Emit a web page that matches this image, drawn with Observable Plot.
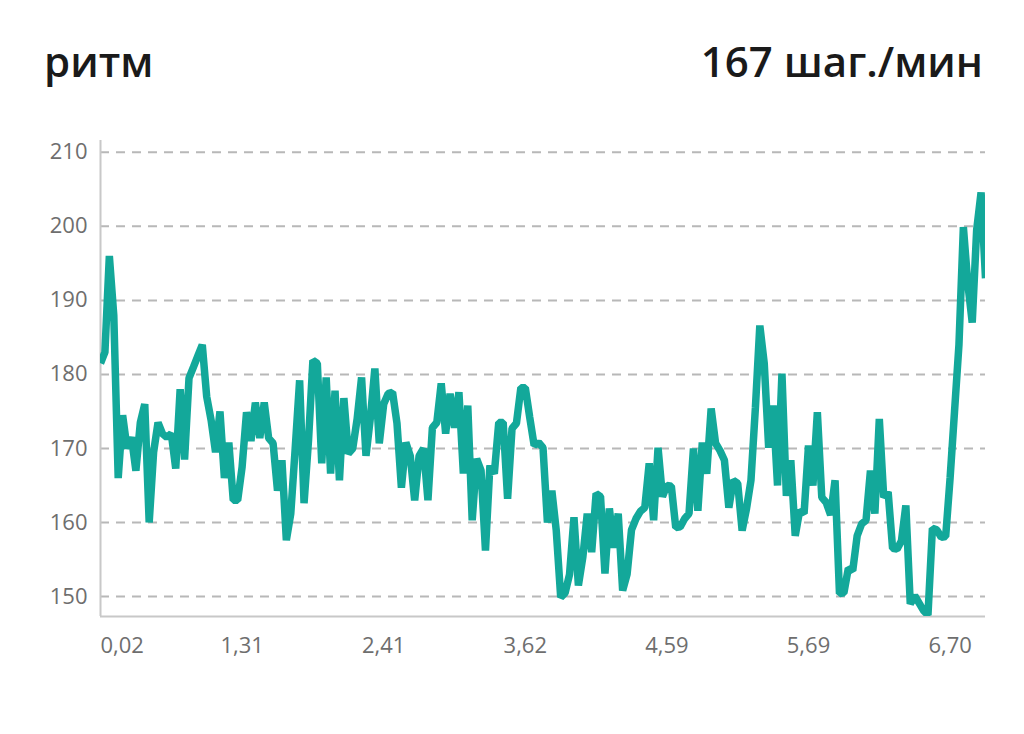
<!DOCTYPE html>
<html><head><meta charset="utf-8">
<script src="https://cdn.jsdelivr.net/npm/d3@7"></script>
<script src="https://cdn.jsdelivr.net/npm/@observablehq/plot@0.6"></script>
<style>
html,body{margin:0;padding:0;background:#fff;}
body{width:1024px;height:734px;overflow:hidden;font-family:"Open Sans",sans-serif;}
#header{position:relative;height:120px;}
.t{position:absolute;top:40px;font-size:42px;font-weight:600;line-height:1;color:#1a1a1a;white-space:nowrap;}
#left{left:44px;}
#right{right:41px;}
#chart svg{display:block;}
</style></head><body>
<div id="header"><span class="t" id="left"></span><span class="t" id="right"></span></div>
<div id="chart"></div>
<script>
const titleText = "ритм";
const summaryText = "167 шаг./мин";

const cadence = [
181.5,183,196,188,166,174.5,170,171.5,167,173.5,
176,160,169.5,173.5,172,171.5,172,167.3,178,168.5,
179.5,181,182.5,184,177,173.8,169.5,175,166,170.8,
163,163,167.5,174.9,171,176.2,171.4,176.2,171.4,170.7,
164.3,168.4,157.6,161.2,170,179.2,162.6,171,181.9,181.5,
168,179.6,166.6,177.8,165.7,176.8,169.3,170,174,179.6,
169,174.2,180.8,170.7,176,177.4,177.6,173.4,164.7,170.8,
169,163,169,170,163,172.8,173.5,178.8,172,177.4,
172.8,177.6,166.6,175.8,160.3,168.6,167,156.2,167.7,166.6,
173.5,173.5,163.2,172.7,173.4,178.2,178.2,174.2,170.4,170.8,
170.1,160,164.3,158.9,149.9,150.5,153,160.7,151.5,155.3,
161.2,156,163.9,163.5,153.1,161.9,156.6,161.2,150.8,153,
159,160.5,161.5,162,168,160.3,170.1,163.5,165,164.9,
159.3,159.4,160.5,161.2,170,161.6,170.8,166.6,175.4,170.7,
169.7,168.4,162,165.7,165.3,158.9,161.9,165.7,175.5,186.6,
181.5,170.1,175.8,165,180.1,163.6,168.4,158.2,161.6,161.2,
170.4,165,174.9,163.4,162.7,161,165.7,150.4,150.5,153.8,
153.5,158.2,159.8,160.3,167,161.2,174,163.4,164.1,156.5,
156.4,157.5,162.3,149,150.1,149.1,148.1,147.5,159.2,159,
158,158.1,166,175,184,199.9,192.3,187,199.5,204.6,
193
];

const xTickIndex = [0, 32, 64, 96, 128, 160, 192];
const xTickLabels = ["0,02", "1,31", "2,41", "3,62", "4,59", "5,69", "6,70"];
const yTicks = [150, 160, 170, 180, 190, 200, 210];

document.getElementById("left").textContent = titleText;
document.getElementById("right").textContent = summaryText;

const data = cadence.map((v, i) => ({i, v}));
const fmt = new Map(xTickIndex.map((t, k) => [t, xTickLabels[k]]));

const chart = Plot.plot({
  width: 1024,
  height: 614,
  marginLeft: 100,
  marginRight: 39,
  marginTop: 20,
  marginBottom: 118,
  style: {fontFamily: "Open Sans", fontSize: "22px", color: "#6e6e6e", background: "#fff"},
  x: {domain: [0, cadence.length - 1], label: null},
  y: {domain: [147.3, 211.6], label: null},
  marks: [
    Plot.gridY(yTicks, {stroke: "#b8b8b8", strokeOpacity: 1, strokeWidth: 2, strokeDasharray: "9,7"}),
    Plot.ruleY([147.3], {stroke: "#c8c8c8", strokeWidth: 2}),
    Plot.ruleX([0], {stroke: "#c8c8c8", strokeWidth: 2}),
    Plot.line(data, {x: "i", y: "v", stroke: "#13a89a", strokeWidth: 7.5, strokeLinejoin: "miter", strokeLinecap: "butt", clip: true}),
    Plot.axisY(yTicks, {tickSize: 0, tickPadding: 13, fontSize: 22, label: null}),
    Plot.axisX(xTickIndex.slice(1), {tickSize: 0, tickPadding: 21, tickFormat: d => fmt.get(d), fontSize: 22, label: null}),
    Plot.axisX([0], {tickSize: 0, tickPadding: 21, tickFormat: d => fmt.get(d), textAnchor: "start", fontSize: 22, label: null})
  ]
});
document.getElementById("chart").appendChild(chart);
</script>
</body></html>
